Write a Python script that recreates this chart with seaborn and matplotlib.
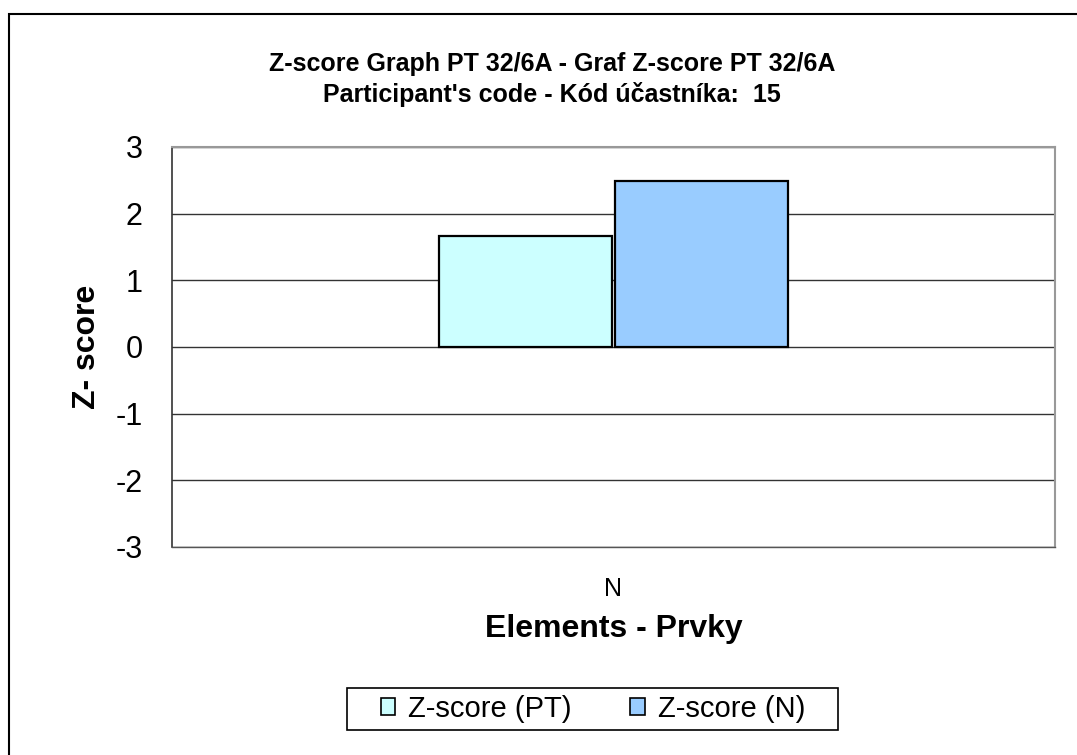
import matplotlib
matplotlib.use("Agg")
import matplotlib.pyplot as plt
from matplotlib.patches import Rectangle, Patch
import seaborn as sns
import pandas as pd

# Data
elements = ["N"]
series = ["Z-score (PT)", "Z-score (N)"]
z_pt = [1.66]
z_n = [2.49]
yticks = [-3, -2, -1, 0, 1, 2, 3]
colors = ["#CCFFFF", "#99CCFF"]

df = pd.DataFrame({
    "element": elements * 2,
    "series": [series[0]] * len(elements) + [series[1]] * len(elements),
    "value": z_pt + z_n,
})

sns.set_style("white")
plt.rcParams["font.family"] = ["Liberation Sans", "DejaVu Sans"]
plt.rcParams["text.color"] = "black"
plt.rcParams["axes.labelcolor"] = "black"
plt.rcParams["xtick.color"] = "black"
plt.rcParams["ytick.color"] = "black"

W, H = 1077, 755
fig = plt.figure(figsize=(W / 100, H / 100), dpi=100)
ax = fig.add_axes([172 / W, 1 - 547 / H, (1055 - 172) / W, 400 / H])

sns.barplot(data=df, x="element", y="value", hue="series", palette=colors,
            width=0.4, gap=0.02, edgecolor="black", linewidth=1.6,
            legend=False, ax=ax, saturation=1)

ax.set_xlim(-0.5, 0.5)
ax.set_ylim(-3, 3)
ax.set_yticks(yticks)
ax.set_yticklabels([str(t) for t in yticks], fontsize=22)
ax.tick_params(axis="y", direction="out", length=10, width=1, color="#333333",
               labelcolor="black", pad=11)
ax.tick_params(axis="x", length=0, pad=21.5, labelsize=18, labelcolor="black")
ax.set_xticks([0])
ax.set_xticklabels(elements)

for t in yticks:
    ax.axhline(t, color="#333333", lw=1, zorder=0.5)

for side in ["top", "right"]:
    ax.spines[side].set_color("#999999")
    ax.spines[side].set_linewidth(1.5)
ax.spines["left"].set_color("#333333")
ax.spines["left"].set_linewidth(1.2)
ax.spines["bottom"].set_color("#555555")
ax.spines["bottom"].set_linewidth(1)

ax.set_ylabel("Z- score", fontsize=23, fontweight="bold", color="black")
ax.yaxis.set_label_coords(-0.0793, 0.5)
ax.set_xlabel("Elements - Prvky", fontsize=23, fontweight="bold", color="black")
ax.xaxis.set_label_coords(0.5, -0.1675)

fig.text(552 / W, 1 - 71 / H, "Z-score Graph PT 32/6A - Graf Z-score PT 32/6A",
         ha="center", va="baseline", fontsize=18, fontweight="bold", color="black")
fig.text(552 / W, 1 - 102 / H, "Participant's code - Kód účastníka:  15",
         ha="center", va="baseline", fontsize=18, fontweight="bold", color="black")

handles = [Patch(facecolor=c, edgecolor="black", linewidth=1.2) for c in colors]
leg = fig.legend(handles, series, loc="center", bbox_to_anchor=(593 / W, 1 - 709 / H),
                 ncol=2, fontsize=21, frameon=False, labelcolor="black",
                 handlelength=0.5, handleheight=0.5, handletextpad=0.45,
                 columnspacing=2.0, borderpad=0.0)

fig.add_artist(Rectangle((347 / W, 1 - 730 / H), (838 - 347) / W, 42 / H,
                         transform=fig.transFigure, fill=False,
                         edgecolor="black", lw=1.2))

fig.add_artist(Rectangle((9 / W, -0.1), 1.2, (1 - 14 / H) + 0.1,
                         transform=fig.transFigure, fill=False,
                         edgecolor="black", lw=1.5))

fig.savefig("out.png", dpi=100)
